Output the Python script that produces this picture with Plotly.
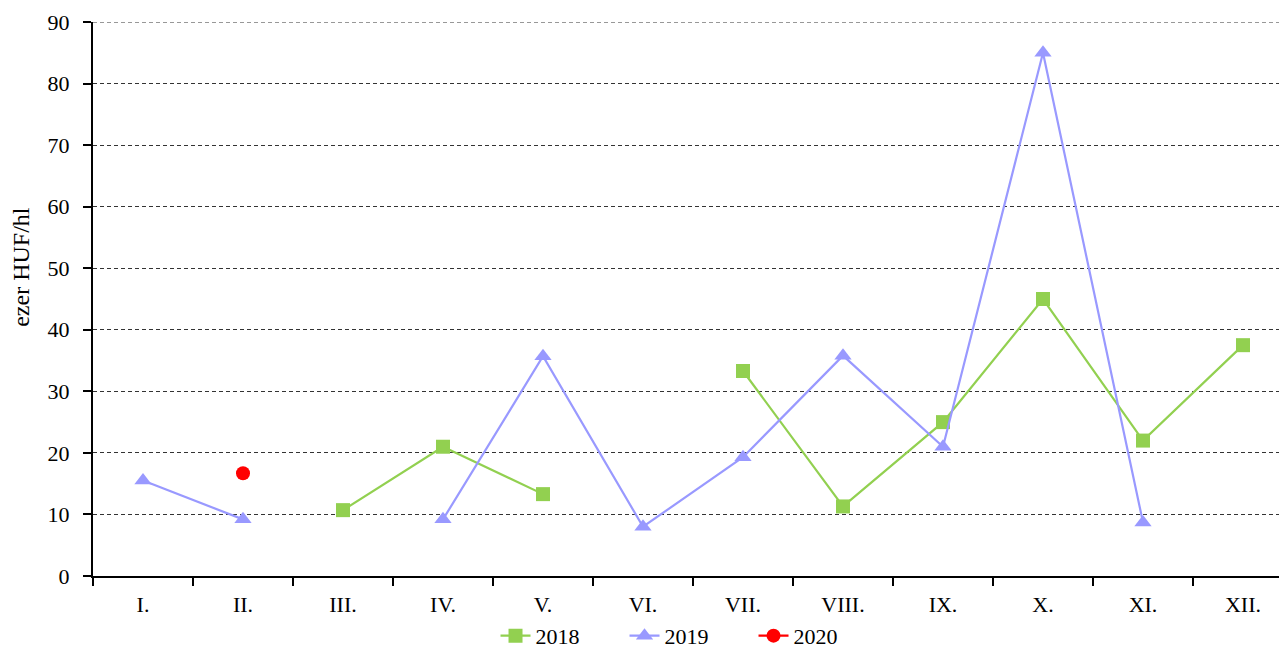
import plotly.graph_objects as go

months = ["I.", "II.", "III.", "IV.", "V.", "VI.", "VII.", "VIII.", "IX.", "X.", "XI.", "XII."]
s2018 = [None, None, 10.7, 21.0, 13.3, None, 33.3, 11.3, 25.0, 45.0, 22.0, 37.5]
s2019 = [15.5, 9.2, None, 9.2, 35.7, 8.0, 19.3, 35.8, 21.0, 85.0, 8.7, None]
s2020 = [None, 16.7, None, None, None, None, None, None, None, None, None, None]
y_ticks = [0, 10, 20, 30, 40, 50, 60, 70, 80, 90]

font = "Liberation Serif, Times New Roman, serif"

fig = go.Figure()
fig.add_trace(go.Scatter(x=months, y=s2018, name="2018", mode="lines+markers",
                         line=dict(color="#92D050", width=2.2),
                         marker=dict(symbol="square", size=14, color="#92D050"),
                         connectgaps=False))
fig.add_trace(go.Scatter(x=months, y=s2019, name="2019", mode="lines+markers",
                         line=dict(color="#9999FF", width=2.2),
                         marker=dict(symbol="triangle-up", size=15, color="#9999FF"),
                         connectgaps=False))
fig.add_trace(go.Scatter(x=months, y=s2020, name="2020", mode="lines+markers",
                         line=dict(color="#FF0000", width=2.2),
                         marker=dict(symbol="circle", size=14, color="#FF0000"),
                         connectgaps=False))

# page body has an 8px margin; compensate so the plot area lands where the reference has it
fig.update_layout(
    width=1279, height=640,
    margin=dict(l=85, r=1, t=14, b=72, autoexpand=False),
    plot_bgcolor="white", paper_bgcolor="white",
    font=dict(family=font, size=22, color="black"),
    showlegend=True,
    legend=dict(orientation="h", x=0.3374, xanchor="left", y=-0.108, yanchor="middle",
                font=dict(size=22, family=font), traceorder="normal",
                entrywidth=84, entrywidthmode="pixels",
                bgcolor="rgba(0,0,0,0)"),
    shapes=[dict(type="line", xref="paper", yref="y", x0=0, x1=1, y0=90, y1=90,
                 line=dict(color="#333333", width=1, dash="4px,3px"), layer="below")],
    annotations=[dict(text="ezer HUF/hl", xref="paper", yref="paper", x=-0.0604, y=0.558,
                      textangle=-90, showarrow=False, xanchor="center", yanchor="middle",
                      font=dict(size=24, family=font, color="black"))],
)
fig.update_xaxes(type="category", tickson="boundaries", ticks="outside", ticklen=8,
                 tickwidth=2, tickcolor="black", showline=True, linecolor="black",
                 linewidth=2, showgrid=False, range=[-0.5, 11.43], automargin=False,
                 ticklabelstandoff=8,
                 tickfont=dict(size=22, family=font))
fig.update_yaxes(range=[0, 90], tickvals=y_ticks, ticks="outside", ticklen=8,
                 tickwidth=2, tickcolor="black", showline=True, linecolor="black",
                 linewidth=2, showgrid=True, gridcolor="#333333", griddash="4px,3px",
                 gridwidth=1, zeroline=False, automargin=False,
                 ticklabelstandoff=9,
                 tickfont=dict(size=22, family=font))

fig.write_html("out.html")
